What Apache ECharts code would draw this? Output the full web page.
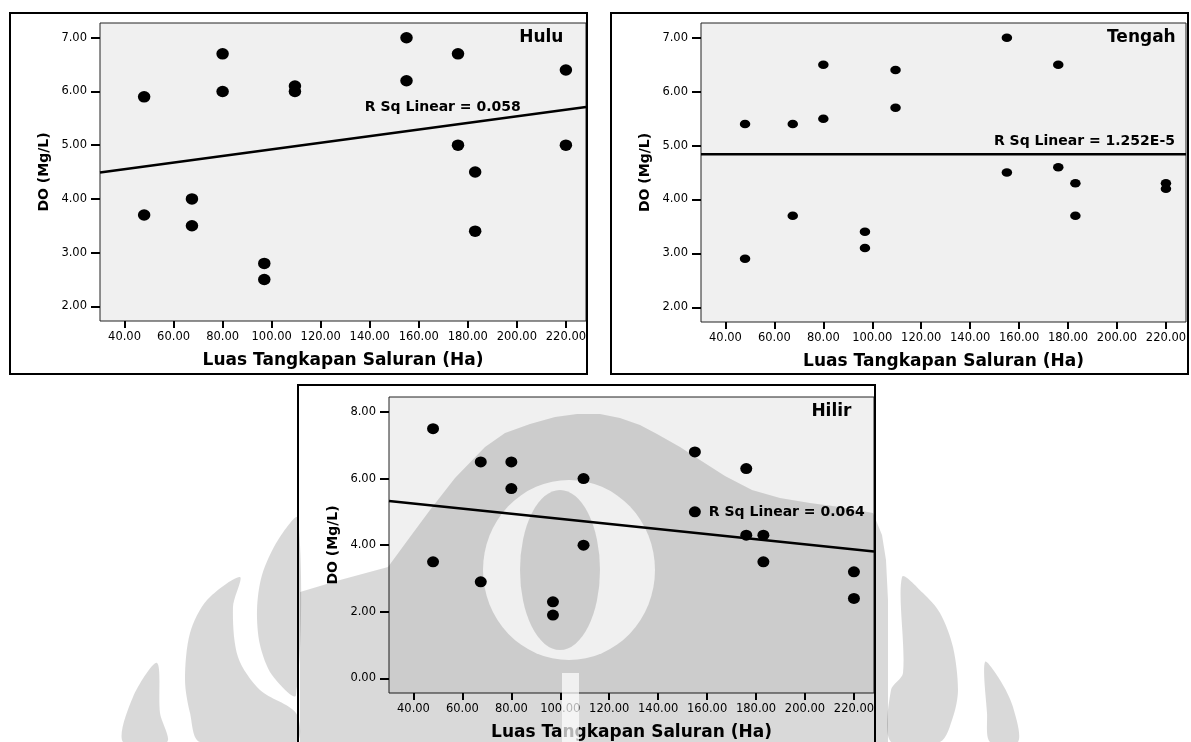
<!DOCTYPE html>
<html>
<head>
<meta charset="utf-8">
<script src="https://cdn.jsdelivr.net/npm/echarts@6/dist/echarts.min.js"></script>
<style>
    html, body { margin: 0; padding: 0; background: #fff; }
    #main { width: 1191px; height: 742px; }
</style>
</head>
<body>
<div id="main"></div>
<script>
// luas tangkapan saluran (Ha) tiap titik sampling
let luasTangkapan = [48, 67.5, 80, 97, 109.5, 155, 176, 183, 220];

// DO (Mg/L), dua pengukuran per titik
let huluDO1 = [5.9, 4.0, 6.7, 2.8, 6.1, 7.0, 6.7, 4.5, 6.4];
let huluDO2 = [3.7, 3.5, 6.0, 2.5, 6.0, 6.2, 5.0, 3.4, 5.0];
let tengahDO1 = [5.4, 5.4, 6.5, 3.4, 6.4, 7.0, 6.5, 4.3, 4.3];
let tengahDO2 = [2.9, 3.7, 5.5, 3.1, 5.7, 4.5, 4.6, 3.7, 4.2];
let hilirDO1 = [7.5, 6.5, 6.5, 2.3, 6.0, 6.8, 6.3, 4.3, 3.2];
let hilirDO2 = [3.5, 2.9, 5.7, 1.9, 4.0, 5.0, 4.3, 3.5, 2.4];

// garis regresi (nilai di ujung kiri & kanan sumbu x)
let garisX = [30, 228.2];
let huluFit = [4.49, 5.71];
let tengahFit = [4.84, 4.84];
let hilirFit = [5.33, 3.81];
let rsqLabel = ["R Sq Linear = 0.058", "R Sq Linear = 1.252E-5", "R Sq Linear = 0.064"];

// tick
let xTicks = [40, 60, 80, 100, 120, 140, 160, 180, 200, 220];
let yTicksAtas = [2, 3, 4, 5, 6, 7];
let yTicksHilir = [0, 2, 4, 6, 8];

let chart = echarts.init(document.getElementById("main"));
let huruf = "DejaVu Sans";
let tanda = "rgba(0,0,0,0.15)"; // watermark
let hapus = "rgba(255,255,255,0.7)";

function sumbuX(gi) {
    return {
        type: "value", gridIndex: gi, min: 30, max: 228.2,
        name: "Luas Tangkapan Saluran (Ha)", nameLocation: "middle", nameGap: 31,
        nameTextStyle: { fontFamily: huruf, fontWeight: "bold", fontSize: 17, color: "#000" },
        axisLine: { show: false, onZero: false },
        splitLine: { show: false },
        axisTick: { show: true, length: 7, lineStyle: { color: "#000", width: 2 }, customValues: xTicks },
        axisLabel: {
            margin: 10, fontFamily: huruf, fontSize: 11.5, color: "#000",
            customValues: xTicks,
            formatter: function (v) { return v.toFixed(2); }
        }
    };
}

function sumbuY(gi, min, max, ticks) {
    return {
        type: "value", gridIndex: gi, min: min, max: max,
        name: "DO (Mg/L)", nameLocation: "middle", nameGap: 49, nameRotate: 90,
        nameTextStyle: { fontFamily: huruf, fontWeight: "bold", fontSize: 14, color: "#000" },
        axisLine: { show: false, onZero: false },
        splitLine: { show: false },
        axisTick: { show: true, length: 9, lineStyle: { color: "#000", width: 2 }, customValues: ticks },
        axisLabel: {
            margin: 13, fontFamily: huruf, fontSize: 11.5, color: "#000",
            customValues: ticks,
            formatter: function (v) { return v.toFixed(2); }
        }
    };
}

function titik(do1, do2, gi, size) {
    let data = [];
    for (let i = 0; i < luasTangkapan.length; i++) {
        data.push([luasTangkapan[i], do1[i]]);
        data.push([luasTangkapan[i], do2[i]]);
    }
    return {
        type: "scatter", xAxisIndex: gi, yAxisIndex: gi, data: data,
        symbol: "circle", symbolSize: size, itemStyle: { color: "#000", opacity: 1 }, silent: true, z: 3
    };
}

function garis(fit, gi) {
    return {
        type: "line", xAxisIndex: gi, yAxisIndex: gi,
        data: [[garisX[0], fit[0]], [garisX[1], fit[1]]],
        showSymbol: false, symbol: "none", silent: true, z: 3,
        lineStyle: { color: "#000", width: 2.5 }
    };
}

// teks di dalam plot, diletakkan di koordinat data
function teks(gi, items) {
    return {
        type: "scatter", xAxisIndex: gi, yAxisIndex: gi, symbolSize: 0, silent: true, z: 4,
        itemStyle: { opacity: 1 },
        data: items.map(function (t) {
            return {
                value: [t.x, t.y],
                label: {
                    show: true, position: t.pos, distance: 0, formatter: t.text,
                    fontFamily: huruf, fontWeight: "bold", fontSize: t.size, color: "#000"
                }
            };
        })
    };
}

// bentuk watermark
function bentuk(points, fill, smooth) {
    return { type: "polygon", shape: { points: points, smooth: smooth || 0 }, style: { fill: fill }, z: 1, silent: true };
}

chart.setOption({
    animation: false,
    grid: [
        { left: 100, top: 23, width: 486, height: 298, show: true, backgroundColor: "#f0f0f0", borderColor: "#222", borderWidth: 1 },
        { left: 701, top: 23, width: 485, height: 299, show: true, backgroundColor: "#f0f0f0", borderColor: "#222", borderWidth: 1 },
        { left: 389, top: 397, width: 485, height: 297, show: true, backgroundColor: "#f0f0f0", borderColor: "#222", borderWidth: 1 }
    ],
    xAxis: [sumbuX(0), sumbuX(1), sumbuX(2)],
    yAxis: [
        sumbuY(0, 1.728, 7.274, yTicksAtas),
        sumbuY(1, 1.728, 7.274, yTicksAtas),
        sumbuY(2, -0.44, 8.45, yTicksHilir)
    ],
    series: [
        titik(huluDO1, huluDO2, 0, [12.5, 11.5]),
        titik(tengahDO1, tengahDO2, 1, [10.5, 8.5]),
        titik(hilirDO1, hilirDO2, 2, [12, 11]),
        garis(huluFit, 0),
        garis(tengahFit, 1),
        garis(hilirFit, 2),
        teks(0, [
            { x: 219, y: 7.0, text: "Hulu", pos: "left", size: 17 },
            { x: 138, y: 5.71, text: rsqLabel[0], pos: "right", size: 14 }
        ]),
        teks(1, [
            { x: 224, y: 7.0, text: "Tengah", pos: "left", size: 17 },
            { x: 149.7, y: 5.07, text: rsqLabel[1], pos: "right", size: 14 }
        ]),
        teks(2, [
            { x: 219, y: 8.0, text: "Hilir", pos: "left", size: 17 },
            { x: 160.7, y: 4.99, text: rsqLabel[2], pos: "right", size: 14 }
        ])
    ],
    graphic: [
        // bingkai luar
        { type: "rect", shape: { x: 10, y: 13, width: 577, height: 361 }, style: { fill: "none", stroke: "#000", lineWidth: 2 }, z: 10, silent: true },
        { type: "rect", shape: { x: 611, y: 13, width: 577, height: 361 }, style: { fill: "none", stroke: "#000", lineWidth: 2 }, z: 10, silent: true },
        { type: "rect", shape: { x: 298, y: 385, width: 577, height: 400 }, style: { fill: "none", stroke: "#000", lineWidth: 2 }, z: 10, silent: true },
        // watermark (logo samar)
        bentuk([[300, 742], [300, 592], [340, 580], [388, 567], [410, 537], [430, 510], [455, 478], [485, 447], [505, 433],
                [530, 424], [555, 417], [577, 414], [600, 414], [620, 418], [640, 425], [657, 434], [680, 447], [700, 460],
                [725, 476], [752, 490], [780, 498], [810, 503], [840, 507], [873, 513], [882, 535], [886, 560], [888, 600],
                [888, 742]], tanda),
        bentuk([[298, 518], [278, 540], [262, 575], [257, 610], [260, 645], [272, 675], [296, 695]], tanda, 0.3),
        bentuk([[240, 577], [207, 600], [190, 633], [185, 680], [190, 713], [200, 742], [296, 742], [296, 713],
                [260, 690], [238, 657], [233, 607]], tanda, 0.3),
        bentuk([[157, 663], [133, 697], [123, 742], [167, 742], [160, 713]], tanda, 0.3),
        bentuk([[902, 577], [923, 593], [940, 613], [953, 647], [958, 690], [953, 717], [940, 742], [891, 742],
                [891, 690], [903, 673]], tanda, 0.3),
        bentuk([[985, 662], [1000, 680], [1013, 707], [1018, 742], [990, 742], [987, 713]], tanda, 0.3),
        { type: "circle", x: 569, y: 570, scaleY: 90 / 86, shape: { cx: 0, cy: 0, r: 86 }, style: { fill: hapus }, z: 1, silent: true },
        { type: "circle", x: 560, y: 570, scaleY: 2, shape: { cx: 0, cy: 0, r: 40 }, style: { fill: tanda }, z: 1, silent: true },
        { type: "rect", shape: { x: 562, y: 673, width: 17, height: 80 }, style: { fill: hapus }, z: 1, silent: true }
    ]
});

window.onresize = function () {
    chart.resize();
};
</script>
</body>
</html>
